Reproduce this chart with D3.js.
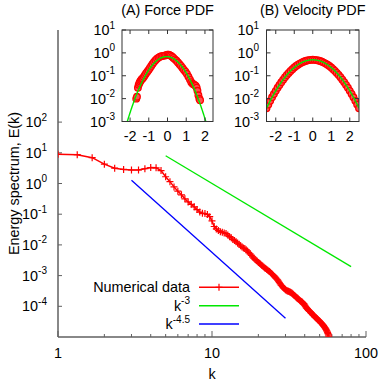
<!DOCTYPE html>
<html><head><meta charset="utf-8">
<script src="https://cdn.jsdelivr.net/npm/d3@7/dist/d3.min.js"></script>
<style>
body{margin:0;background:#fff}
svg{display:block}
text{font-family:"Liberation Sans",Arial,Helvetica,sans-serif;fill:#000}
</style>
</head><body>
<svg id="chart" width="382" height="382"></svg>
<script>
// ---------------- DATA ----------------
// Energy spectrum E(k), sampled at k = 1, 4/3, 5/3, ... (step 1/3)
const kStart = 1;
const kStep = 1 / 3;
const energySpectrum = [
  8.91, 8.71, 6.92, 4.27, 3.16, 2.88, 2.75, 2.75, 3.02, 3.31,
  3.24, 2.63, 1.66, 1.15, 0.776, 0.562, 0.427, 0.316, 0.251, 0.209,
  0.174, 0.141, 0.117, 0.107, 0.105, 0.0977, 0.0832, 0.0603, 0.0398, 0.0331,
  0.0295, 0.0269, 0.0257, 0.0245, 0.0234, 0.0209, 0.0186, 0.0170, 0.0151, 0.0138,
  0.0126, 0.0115, 0.0105, 9.33e-3, 8.51e-3, 7.94e-3, 7.59e-3, 6.92e-3, 6.31e-3, 5.62e-3,
  5.13e-3, 4.57e-3, 4.07e-3, 3.72e-3, 3.39e-3, 3.16e-3, 2.95e-3, 2.69e-3, 2.51e-3, 2.34e-3,
  2.19e-3, 2.04e-3, 1.91e-3, 1.78e-3, 1.70e-3, 1.58e-3, 1.48e-3, 1.41e-3, 1.35e-3, 1.26e-3,
  1.17e-3, 1.10e-3, 1.02e-3, 9.55e-4, 8.91e-4, 8.32e-4, 7.76e-4, 7.24e-4, 6.61e-4, 6.03e-4,
  5.50e-4, 5.01e-4, 4.68e-4, 4.37e-4, 4.07e-4, 3.80e-4, 3.63e-4, 3.47e-4, 3.31e-4, 3.24e-4,
  3.16e-4, 3.09e-4, 3.02e-4, 2.95e-4, 2.88e-4, 2.75e-4, 2.69e-4, 2.57e-4, 2.45e-4, 2.34e-4,
  2.24e-4, 2.14e-4, 2.04e-4, 1.95e-4, 1.86e-4, 1.82e-4, 1.74e-4, 1.66e-4, 1.58e-4, 1.51e-4,
  1.45e-4, 1.41e-4, 1.38e-4, 1.35e-4, 1.29e-4, 1.23e-4, 1.17e-4, 1.10e-4, 1.02e-4, 9.55e-5,
  8.91e-5, 8.51e-5, 8.13e-5, 7.76e-5, 7.41e-5, 7.24e-5, 6.92e-5, 6.76e-5, 6.46e-5, 6.17e-5,
  5.89e-5, 5.62e-5, 5.37e-5, 5.25e-5, 5.01e-5, 4.90e-5, 4.68e-5, 4.47e-5, 4.37e-5, 4.27e-5,
  4.07e-5, 3.98e-5, 3.80e-5, 3.72e-5, 3.55e-5, 3.47e-5, 3.31e-5, 3.24e-5, 3.09e-5, 3.02e-5,
  2.88e-5, 2.82e-5, 2.75e-5, 2.63e-5, 2.51e-5, 2.45e-5, 2.34e-5, 2.24e-5, 2.14e-5, 2.04e-5,
  1.95e-5, 1.86e-5, 1.78e-5, 1.66e-5, 1.58e-5, 1.48e-5, 1.38e-5, 1.29e-5, 1.17e-5, 1.07e-5
];
// Reference power laws: E = coef * k^power over a k range
const powerLawK3 = { kRange: [5, 80], coef: 1000, power: -3 };
const powerLawK45 = { kRange: [3, 30], coef: 180, power: -4.5 };
const legendLabels = ["Numerical data", "k", "k"];
const legendExponents = ["", "-3", "-4.5"];

const mainXTicks = [1, 10, 100];
const mainXMinorTicks = [2, 3, 4, 5, 6, 7, 8, 9, 20, 30, 40, 50, 60, 70, 80, 90];
const mainYTickExponents = [-4, -3, -2, -1, 0, 1, 2];

// Inset A: Force PDF
const forceX = [-1.67,-1.63,-1.58,-1.54,-1.50,-1.46,-1.42,-1.38,-1.33,-1.27,
  -1.21,-1.15,-1.08,-1.01,-0.94,-0.87,-0.80,-0.72,-0.64,-0.56,
  -0.48,-0.40,-0.32,-0.24,-0.16,-0.08,0.00,0.06,0.12,0.18,
  0.25,0.32,0.40,0.48,0.56,0.64,0.72,0.80,0.88,0.96,
  1.04,1.12,1.20,1.27,1.34,1.40,1.46,1.51,1.56,1.60,
  1.65,1.70,1.74];
const forcePdf = [0.010,0.012,0.030,0.040,0.048,0.056,0.063,0.070,0.076,0.088,
  0.105,0.125,0.15,0.18,0.22,0.27,0.33,0.40,0.48,0.56,
  0.62,0.68,0.72,0.74,0.76,0.79,0.83,0.84,0.80,0.75,
  0.68,0.60,0.52,0.45,0.38,0.32,0.27,0.22,0.18,0.15,
  0.12,0.09,0.068,0.052,0.045,0.042,0.039,0.036,0.030,0.022,
  0.014,0.010,0.0085];
const forceFit = { mean: -0.05, sigma: 0.58 };

// Inset B: Velocity PDF
const velocityX = [-2.5,-2.4,-2.3,-2.2,-2.1,-2.0,-1.9,-1.8,-1.7,-1.6,
  -1.5,-1.4,-1.3,-1.2,-1.1,-1.0,-0.9,-0.8,-0.7,-0.6,
  -0.5,-0.4,-0.3,-0.2,-0.1,0.0,0.1,0.2,0.3,0.4,
  0.5,0.6,0.7,0.8,0.9,1.0,1.1,1.2,1.3,1.4,
  1.5,1.6,1.7,1.8,1.9,2.0,2.1,2.2,2.3,2.4,2.5];
const velocityPdf = [0.0038,0.0055,0.0080,0.0114,0.0159,0.0219,0.0297,0.0397,0.0522,0.0675,
  0.086,0.108,0.133,0.162,0.194,0.228,0.265,0.302,0.340,0.376,
  0.410,0.440,0.465,0.483,0.495,0.499,0.495,0.483,0.465,0.440,
  0.410,0.376,0.340,0.302,0.265,0.228,0.194,0.162,0.133,0.108,
  0.086,0.0675,0.0522,0.0397,0.0297,0.0219,0.0159,0.0114,0.0080,0.0055,0.0038];
const velocityFit = { mean: 0, sigma: 0.8 };

const insetXTicks = [-2, -1, 0, 1, 2];
const insetYTickExponents = [-3, -2, -1, 0, 1];
const insetTitles = ["(A) Force PDF", "(B) Velocity PDF"];

// ---------------- STYLE ----------------
const RED = "#ff0000", GREEN = "#00e800", BLUE = "#0000ff";
const AXIS = "#606060";
const FS = 14.4, EXP_FS = 10;

const svg = d3.select("#chart");

// ---------------- MAIN PLOT ----------------
const M = { left: 58, right: 366, top: 30, bottom: 337 };
const x = d3.scaleLog().domain([1, 100]).range([M.left, M.right]);
const y = d3.scaleLog().domain([1e-5, 1e5]).range([M.bottom, M.top]);

svg.append("clipPath").attr("id", "mainClip").append("rect")
  .attr("x", M.left).attr("y", M.top).attr("width", M.right - M.left).attr("height", M.bottom - M.top);

function powLabel(sel, base, exp, anchor) {
  const t = sel.append("text").attr("text-anchor", anchor).style("font-size", FS + "px");
  t.append("tspan").text(base);
  if (exp !== "") t.append("tspan").attr("dy", -6.5).style("font-size", EXP_FS + "px").text(exp);
  return t;
}

// axes lines
const gAxes = svg.append("g");
gAxes.append("line").attr("x1", M.left).attr("x2", M.left).attr("y1", M.top).attr("y2", M.bottom)
  .attr("stroke", AXIS).attr("stroke-width", 1.5);
gAxes.append("line").attr("x1", M.left).attr("x2", M.right).attr("y1", M.bottom).attr("y2", M.bottom)
  .attr("stroke", AXIS).attr("stroke-width", 1.5);

// x ticks
mainXTicks.forEach(v => {
  gAxes.append("line").attr("x1", x(v)).attr("x2", x(v)).attr("y1", M.bottom).attr("y2", M.bottom - 6)
    .attr("stroke", AXIS).attr("stroke-width", 1);
  gAxes.append("text").attr("x", x(v)).attr("y", 358).attr("text-anchor", "middle")
    .style("font-size", FS + "px").text(v);
});
mainXMinorTicks.forEach(v => {
  gAxes.append("line").attr("x1", x(v)).attr("x2", x(v)).attr("y1", M.bottom).attr("y2", M.bottom - 3)
    .attr("stroke", AXIS).attr("stroke-width", 1);
});
// y ticks
mainYTickExponents.forEach(e => {
  const yy = y(Math.pow(10, e));
  gAxes.append("line").attr("x1", M.left).attr("x2", M.left + 4).attr("y1", yy).attr("y2", yy)
    .attr("stroke", AXIS).attr("stroke-width", 1);
  powLabel(gAxes, "10", String(e), "end").attr("x", 47).attr("y", yy + 5);
});
// axis titles
svg.append("text").attr("x", x(10)).attr("y", 379).attr("text-anchor", "middle")
  .style("font-size", FS + "px").text("k");
svg.append("text").attr("transform", "translate(18.5,183.5) rotate(-90)").attr("text-anchor", "middle")
  .style("font-size", FS + "px").text("Energy spectrum, E(k)");

const plot = svg.append("g").attr("clip-path", "url(#mainClip)");
// power-law lines
[[powerLawK3, GREEN], [powerLawK45, BLUE]].forEach(([pl, col]) => {
  const pts = pl.kRange.map(k => [k, pl.coef * Math.pow(k, pl.power)]);
  plot.append("path").attr("d", d3.line().x(d => x(d[0])).y(d => y(d[1]))(pts))
    .attr("fill", "none").attr("stroke", col).attr("stroke-width", 1.3);
});
// numerical data
const spec = energySpectrum.map((e, i) => ({ k: kStart + i * kStep, e }));
plot.append("path").attr("d", d3.line().x(d => x(d.k)).y(d => y(d.e))(spec))
  .attr("fill", "none").attr("stroke", RED).attr("stroke-width", 1.5);
const plusPath = "M-3.5,0H3.5M0,-3.5V3.5";
plot.selectAll("path.pm").data(spec).join("path").attr("class", "pm")
  .attr("transform", d => `translate(${x(d.k)},${y(d.e)})`)
  .attr("d", plusPath).attr("stroke", RED).attr("stroke-width", 1.2).attr("fill", "none");

// legend
const legY = [287.3, 305.7, 324];
const legCols = [RED, GREEN, BLUE];
legendLabels.forEach((lab, i) => {
  powLabel(svg, lab, legendExponents[i], "end").attr("x", 190).attr("y", legY[i] + 5);
  svg.append("line").attr("x1", 199).attr("x2", 239).attr("y1", legY[i]).attr("y2", legY[i])
    .attr("stroke", legCols[i]).attr("stroke-width", 1.5);
});
svg.append("path").attr("transform", `translate(219,${legY[0]})`).attr("d", plusPath)
  .attr("stroke", RED).attr("stroke-width", 1.2);

// ---------------- INSETS ----------------
function gaussian(fit, xv) {
  return Math.exp(-Math.pow(xv - fit.mean, 2) / (2 * fit.sigma * fit.sigma)) / (fit.sigma * Math.sqrt(2 * Math.PI));
}
function drawInset(id, box, xDomain, xs, ys, fit, title, labelRight) {
  const ix = d3.scaleLinear().domain(xDomain).range([box.l, box.r]);
  const iy = d3.scaleLog().domain([1e-3, 1e1]).range([box.b, box.t]);
  const g = svg.append("g");
  svg.append("clipPath").attr("id", id).append("rect")
    .attr("x", box.l).attr("y", box.t).attr("width", box.r - box.l).attr("height", box.b - box.t);
  const inner = g.append("g").attr("clip-path", `url(#${id})`);
  inner.selectAll("circle").data(xs).join("circle")
    .attr("cx", (d) => ix(d)).attr("cy", (d, i) => iy(ys[i])).attr("r", 3.3)
    .attr("fill", "#ff5050").attr("stroke", RED).attr("stroke-width", 1.3);
  const fx = d3.range(xDomain[0], xDomain[1] + 0.001, 0.02);
  inner.append("path").attr("d", d3.line().x(d => ix(d)).y(d => iy(gaussian(fit, d)))(fx))
    .attr("fill", "none").attr("stroke", GREEN).attr("stroke-width", 1.4);
  // box
  g.append("rect").attr("x", box.l).attr("y", box.t).attr("width", box.r - box.l).attr("height", box.b - box.t)
    .attr("fill", "none").attr("stroke", "#333").attr("stroke-width", 1);
  insetXTicks.forEach(v => {
    const xx = ix(v);
    g.append("line").attr("x1", xx).attr("x2", xx).attr("y1", box.b).attr("y2", box.b - 4).attr("stroke", "#333");
    g.append("line").attr("x1", xx).attr("x2", xx).attr("y1", box.t).attr("y2", box.t + 4).attr("stroke", "#333");
    g.append("text").attr("x", xx).attr("y", box.b + 19).attr("text-anchor", "middle")
      .style("font-size", FS + "px").text(String(v));
  });
  insetYTickExponents.forEach(e => {
    const yy = iy(Math.pow(10, e));
    g.append("line").attr("x1", box.l).attr("x2", box.l + 4).attr("y1", yy).attr("y2", yy).attr("stroke", "#333");
    g.append("line").attr("x1", box.r).attr("x2", box.r - 4).attr("y1", yy).attr("y2", yy).attr("stroke", "#333");
    powLabel(g, "10", String(e), "end").attr("x", labelRight).attr("y", yy + 5);
  });
  g.append("text").attr("x", (box.l + box.r) / 2).attr("y", 15).attr("text-anchor", "middle")
    .style("font-size", FS + "px").text(title);
}
drawInset("clipA", { l: 122, r: 213, t: 30, b: 121.5 }, [-2.43, 2.43], forceX, forcePdf, forceFit, insetTitles[0], 115);
drawInset("clipB", { l: 266.5, r: 359, t: 30, b: 121.5 }, [-2.5, 2.5], velocityX, velocityPdf, velocityFit, insetTitles[1], 259);
</script>
</body></html>
